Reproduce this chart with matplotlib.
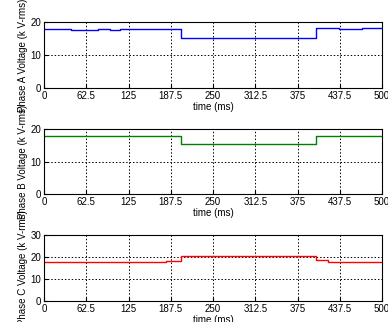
import matplotlib
matplotlib.use("Agg")
import matplotlib.pyplot as plt

plt.rcParams['font.family'] = ['Liberation Sans', 'DejaVu Sans']

# step data: breakpoints (ms) and values (kV-rms)
t_a = [0, 40, 80, 98, 112, 202, 403, 437, 470, 500]
v_a = [18.0, 17.7, 18.0, 17.6, 18.0, 15.3, 18.2, 18.0, 18.2, 18.2]

t_b = [0, 202, 403, 500]
v_b = [17.9, 15.5, 17.9, 17.9]

t_c = [0, 180, 202, 403, 420, 500]
v_c = [17.8, 18.2, 20.3, 18.5, 17.8, 17.8]

xticks = [0, 62.5, 125, 187.5, 250, 312.5, 375, 437.5, 500]
xtick_labels = ['0', '62.5', '125', '187.5', '250', '312.5', '375', '437.5', '500']

series = [
    (t_a, v_a, 'blue', 'Phase A Voltage (k V-rms)', 20, [0, 10, 20]),
    (t_b, v_b, 'green', 'Phase B Voltage (k V-rms)', 20, [0, 10, 20]),
    (t_c, v_c, 'red', 'Phase C Voltage (k V-rms)', 30, [0, 10, 20, 30]),
]

fig = plt.figure(figsize=(3.88, 3.22), dpi=100)
tops = [22, 129, 235]
bots = [88, 194, 301]
W, H = 388, 322
left, right = 44, 382
for (t, v, c, lab, ymax, yt), top, bot in zip(series, tops, bots):
    ax = fig.add_axes([left / W, 1 - bot / H, (right - left) / W, (bot - top) / H])
    ax.step(t, v, where='post', color=c, lw=1.0)
    ax.set_xlim(0, 500)
    ax.set_ylim(0, ymax)
    ax.set_xticks(xticks)
    ax.set_xticklabels(xtick_labels)
    ax.set_yticks(yt)
    ax.tick_params(direction='in', labelsize=7, length=3, pad=2)
    ax.grid(True, color='black', linestyle=(0, (1.5, 2)), lw=0.7)
    ax.set_xlabel('time (ms)', fontsize=7, labelpad=1)
    ax.set_ylabel(lab, fontsize=7, labelpad=2)
    for s in ax.spines.values():
        s.set_linewidth(0.8)

fig.savefig('out.png', dpi=100)
